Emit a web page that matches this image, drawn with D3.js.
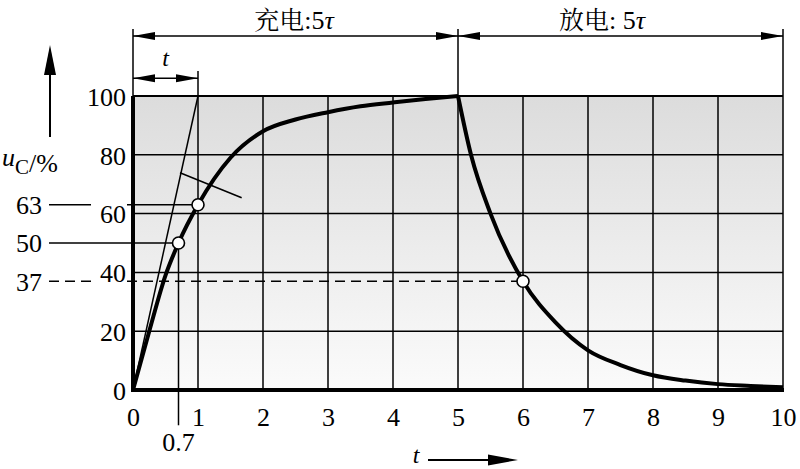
<!DOCTYPE html>
<html>
<head>
<meta charset="utf-8">
<script src="https://cdn.jsdelivr.net/npm/d3@7"></script>
</head>
<body style="margin:0">
<svg id="chart" width="800" height="469"></svg>
<script>
var latin = "'Liberation Serif'";
var cjk = "'Noto Serif CJK SC'";

// charging / discharging curve (t in tau, u in %)
var chargeT = [0, 0.25, 0.5, 0.7, 1, 1.5, 2, 2.5, 3, 3.5, 4, 4.5, 5];
var chargeU = [0, 20, 39, 50, 63, 79, 88, 92, 94.5, 96.5, 97.8, 99, 100];
var dischargeT = [5, 5.2, 5.5, 6, 6.5, 7, 7.5, 8, 8.5, 9, 9.5, 10];
var dischargeU = [100, 80, 60, 37, 23, 13.5, 8.5, 5, 3.2, 2, 1.4, 0.9];

var xTicks = [0, 1, 2, 3, 4, 5, 6, 7, 8, 9, 10];
var yTicks = [0, 20, 40, 60, 80, 100];

// marked points
var markT = [0.7, 1, 6];
var markU = [50, 63, 37];
var markLabels = ["50", "63", "37"];

var x = d3.scaleLinear().domain([0, 10]).range([133, 783]);
var y = d3.scaleLinear().domain([0, 100]).range([390, 96]);

var svg = d3.select("#chart");

// gray background gradient
var grad = svg.append("defs").append("linearGradient")
    .attr("id", "bg").attr("x1", 0).attr("y1", 0).attr("x2", 0).attr("y2", 1);
grad.append("stop").attr("offset", "0%").attr("stop-color", "#dcdcdc");
grad.append("stop").attr("offset", "100%").attr("stop-color", "#fbfbfb");

svg.append("rect")
    .attr("x", x(0)).attr("y", y(100))
    .attr("width", x(10) - x(0)).attr("height", y(0) - y(100))
    .attr("fill", "url(#bg)");

// grid
var grid = svg.append("g").attr("stroke", "#000").attr("stroke-width", 1.5);
grid.selectAll("line.v")
    .data(xTicks.filter(d => d > 0))
    .enter().append("line")
    .attr("class", "v")
    .attr("x1", d => x(d)).attr("x2", d => x(d))
    .attr("y1", y(0))
    .attr("y2", d => d == 5 || d == 10 ? y(122.8) : (d == 1 ? y(108.5) : y(100)));
grid.selectAll("line.h")
    .data(yTicks.filter(d => d > 0))
    .enter().append("line")
    .attr("class", "h")
    .attr("x1", x(0)).attr("x2", x(10))
    .attr("y1", d => y(d)).attr("y2", d => y(d))
    .attr("stroke-width", d => d == 100 ? 2.2 : 1.5);

// left extension above the plot
svg.append("line")
    .attr("x1", x(0)).attr("x2", x(0))
    .attr("y1", y(122.8)).attr("y2", y(100))
    .attr("stroke", "#000").attr("stroke-width", 1.5);

// axes (thick left and bottom lines)
svg.append("line")
    .attr("x1", x(0)).attr("x2", x(0)).attr("y1", y(100)).attr("y2", y(0) + 2)
    .attr("stroke", "#000").attr("stroke-width", 4);
svg.append("line")
    .attr("x1", x(0) - 2).attr("x2", x(10) + 1).attr("y1", y(0)).attr("y2", y(0))
    .attr("stroke", "#000").attr("stroke-width", 4);

var xAxis = svg.append("g")
    .attr("transform", "translate(0," + y(0) + ")")
    .call(d3.axisBottom(x).tickValues(xTicks).tickSize(0).tickFormat(d3.format("d")));
xAxis.select(".domain").remove();
xAxis.attr("font-family", null).attr("font-size", null);
xAxis.selectAll("text")
    .attr("y", 36).attr("dy", null);

var yAxis = svg.append("g")
    .attr("transform", "translate(" + x(0) + ",0)")
    .call(d3.axisLeft(y).tickValues(yTicks).tickSize(0).tickPadding(7));
yAxis.select(".domain").remove();
yAxis.attr("font-family", null).attr("font-size", null);
yAxis.selectAll("text")
    .attr("dy", "0.36em");

// tangent at the origin and the short cross mark
svg.append("line")
    .attr("x1", x(0)).attr("y1", y(0)).attr("x2", x(1)).attr("y2", y(100))
    .attr("stroke", "#000").attr("stroke-width", 1.5);
svg.append("line")
    .attr("x1", x(0.723)).attr("y1", y(73.9)).attr("x2", x(1.672)).attr("y2", y(65.4))
    .attr("stroke", "#000").attr("stroke-width", 1.5);

// 0.7 drop line
svg.append("line")
    .attr("x1", x(0.7)).attr("x2", x(0.7)).attr("y1", y(50)).attr("y2", y(-12))
    .attr("stroke", "#000").attr("stroke-width", 1.5);
svg.append("text")
    .attr("x", x(0.7)).attr("y", 451)
    .attr("text-anchor", "middle")
    .text("0.7");

// reference lines from the left labels to the marked points
var refStart = x.invert(49), gapA = x.invert(91), gapB = x.invert(127);
var refs = svg.append("g").attr("stroke", "#000").attr("stroke-width", 1.5);
markT.forEach(function (t, i) {
    var u = markU[i];
    var dash = u == 37 ? "10,6" : null;
    if (u == 50) {
        refs.append("line").attr("x1", x(refStart)).attr("x2", x(t))
            .attr("y1", y(u)).attr("y2", y(u));
    } else {
        refs.append("line").attr("x1", x(refStart)).attr("x2", x(gapA))
            .attr("y1", y(u)).attr("y2", y(u)).attr("stroke-dasharray", dash);
        refs.append("line").attr("x1", x(gapB)).attr("x2", x(t))
            .attr("y1", y(u)).attr("y2", y(u)).attr("stroke-dasharray", dash);
    }
});
svg.selectAll("text.mark")
    .data(markLabels)
    .enter().append("text")
    .attr("class", "mark")
    .attr("x", 42)
    .attr("y", (d, i) => y(markU[i]))
    .attr("dy", "0.36em")
    .attr("text-anchor", "end")
    .text(d => d);

// curves
var line = d3.line()
    .x(d => x(d[0]))
    .y(d => y(d[1]))
    .curve(d3.curveMonotoneX);

svg.append("path")
    .datum(chargeT.map((t, i) => [t, chargeU[i]]))
    .attr("d", line)
    .attr("fill", "none").attr("stroke", "#000").attr("stroke-width", 4)
    .attr("stroke-linejoin", "round");
svg.append("path")
    .datum(dischargeT.map((t, i) => [t, dischargeU[i]]))
    .attr("d", line)
    .attr("fill", "none").attr("stroke", "#000").attr("stroke-width", 4)
    .attr("stroke-linejoin", "round");

// marked points
svg.selectAll("circle")
    .data(markT)
    .enter().append("circle")
    .attr("cx", d => x(d))
    .attr("cy", (d, i) => y(markU[i]))
    .attr("r", 6)
    .attr("fill", "#fff").attr("stroke", "#000").attr("stroke-width", 1.6);

// arrow heads
function arrowHead(tx, ty, dir, len, half) {
    var pts;
    if (dir == "l") pts = [[tx, ty], [tx + len, ty - half], [tx + len, ty + half]];
    if (dir == "r") pts = [[tx, ty], [tx - len, ty - half], [tx - len, ty + half]];
    if (dir == "u") pts = [[tx, ty], [tx - half, ty + len], [tx + half, ty + len]];
    svg.append("polygon")
        .attr("points", pts.map(p => p.join(",")).join(" "))
        .attr("fill", "#000");
}

// dimension lines at the top
var dimY = y(120.4);
svg.append("line").attr("x1", x(0)).attr("x2", x(10)).attr("y1", dimY).attr("y2", dimY)
    .attr("stroke", "#000").attr("stroke-width", 1.5);
arrowHead(x(0), dimY, "l", 22, 4);
arrowHead(x(5), dimY, "r", 22, 4);
arrowHead(x(5), dimY, "l", 22, 4);
arrowHead(x(10), dimY, "r", 22, 4);

var tDimY = y(106);
svg.append("line").attr("x1", x(0)).attr("x2", x(1)).attr("y1", tDimY).attr("y2", tDimY)
    .attr("stroke", "#000").attr("stroke-width", 1.5);
arrowHead(x(0), tDimY, "l", 22, 4);
arrowHead(x(1), tDimY, "r", 22, 4);
svg.append("text")
    .attr("class", "it")
    .attr("x", (x(0) + x(1)) / 2).attr("y", 66)
    .attr("text-anchor", "middle")
    .text("t");

// y-axis label with arrow
svg.append("line").attr("x1", 50).attr("x2", 50).attr("y1", 137).attr("y2", 70)
    .attr("stroke", "#000").attr("stroke-width", 2);
arrowHead(50, 45, "u", 30, 6);
var ylab = svg.append("text").attr("x", 2).attr("y", 166);
ylab.append("tspan").attr("class", "it").text("u");
ylab.append("tspan").attr("class", "sub").attr("dy", 8).text("C");
ylab.append("tspan").attr("dy", -2).text("/%");

// x-axis label with arrow
svg.append("text")
    .attr("class", "it")
    .attr("x", 416).attr("y", 463)
    .attr("text-anchor", "middle")
    .text("t");
svg.append("line").attr("x1", 428).attr("x2", 492).attr("y1", 460).attr("y2", 460)
    .attr("stroke", "#000").attr("stroke-width", 2);
arrowHead(518, 460, "r", 30, 5.5);

// one font family on every text
svg.selectAll("text")
    .style("font-family", latin)
    .style("font-size", "26px")
    .attr("fill", "#000");
svg.selectAll(".it").style("font-style", "italic");
svg.selectAll(".sub").style("font-size", "21px");
svg.selectAll("text.it").style("font-size", "24px");

// section titles: Chinese part in a serif CJK face, the rest in the latin face
var titles = [{ x: 294, zh: "充电", rest: ":5" }, { x: 602, zh: "放电", rest: ": 5" }];
titles.forEach(function (d) {
    var tx = svg.append("text")
        .attr("x", d.x).attr("y", 29)
        .attr("text-anchor", "middle")
        .style("font-size", "26px")
        .style("font-family", latin);
    tx.append("tspan").style("font-family", cjk).style("font-size", "25px").text(d.zh);
    tx.append("tspan").text(d.rest);
    tx.append("tspan").style("font-style", "italic").text("τ");
});
</script>
</body>
</html>
